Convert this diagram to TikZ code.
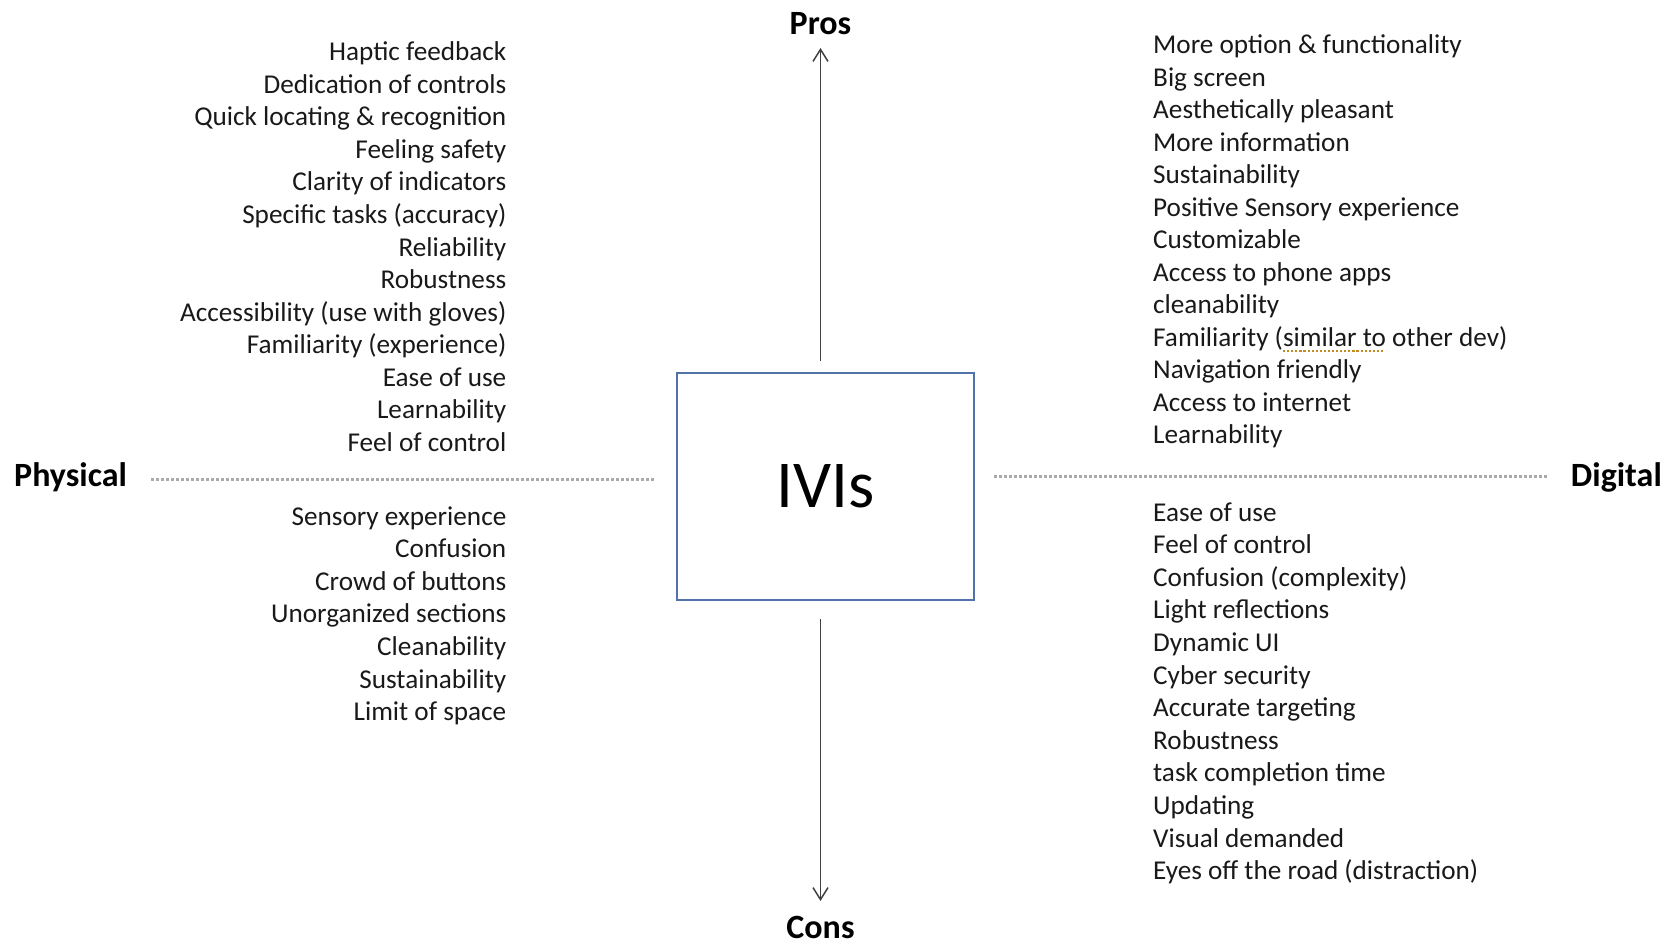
\documentclass[tikz,border=0pt]{standalone}
\usepackage{fontspec}
\setmainfont{Carlito}
\usetikzlibrary{arrows.meta}

\definecolor{boxblue}{RGB}{82,114,170}
\definecolor{axisgray}{RGB}{64,64,64}
\definecolor{dotgray}{RGB}{170,170,170}
\definecolor{spellmark}{RGB}{196,140,30}

% dotted proofing mark under a phrase
\newsavebox\markedbox
\newcommand\spellmarked[1]{\sbox\markedbox{#1}\rlap{\usebox\markedbox}%
  \lower0.22em\hbox to\wd\markedbox{\color{spellmark}\leaders\hbox{\rule{0.08em}{0.08em}\kern0.07em}\hfill}}

\begin{document}
\begin{tikzpicture}[x=1pt,y=-1pt,
  item/.style={inner sep=0pt, font=\fontsize{27.2}{30}\selectfont, text=black!90},
  leftitem/.style={item, anchor=base east},
  rightitem/.style={item, anchor=base west},
  axislabel/.style={inner sep=0pt, font=\fontsize{34}{37}\selectfont\bfseries, text=black},
  axisarrow/.style={draw=axisgray, line width=1.5pt, -{Straight Barb[length=12pt,width=15pt,line width=1.5pt]}},
  divider/.style={draw=dotgray, line width=3pt, dash pattern=on 3pt off 2pt},
  centerbox/.style={draw=boxblue, line width=1.5pt, minimum width=297pt, minimum height=227pt, inner sep=0pt, font=\fontsize{67}{70}\selectfont}]
\useasboundingbox (0,0) rectangle (1665,944);

% centre box
\node[centerbox] (box) at (825.5,486.5) {IVIs};

% axis labels
\node[axislabel, anchor=base] (pros) at (820.5,34.5) {Pros};
\node[axislabel, anchor=base] (cons) at (820.5,938) {Cons};
\node[axislabel, anchor=base west] (physical) at (14,486.5) {Physical};
\node[axislabel, anchor=base east] (digital) at (1662,486) {Digital};

% vertical axis
\coordinate (prosTail) at (820.5,361);
\coordinate (prosTip) at (820.5,48);
\coordinate (consTail) at (820.5,619);
\coordinate (consTip) at (820.5,901);
\draw[axisarrow] (prosTail) -- (prosTip);
\draw[axisarrow] (consTail) -- (consTip);

% horizontal axis
\coordinate (physStart) at (151,479);
\coordinate (physEnd) at (655,479);
\coordinate (digiStart) at (994,476);
\coordinate (digiEnd) at (1547,476);
\draw[divider] (physStart) -- (physEnd);
\draw[divider] (digiStart) -- (digiEnd);

% physical pros
\foreach [count=\i] \t in {Haptic feedback, Dedication of controls,
  Quick locating \& recognition, Feeling safety, Clarity of indicators,
  Specific tasks (accuracy), Reliability, Robustness,
  Accessibility (use with gloves), Familiarity (experience), Ease of use,
  Learnability, Feel of control}
  \node[leftitem, name=pp\i] at (506.5,{61+32.5*(\i-1)}) {\t};

% physical cons
\foreach [count=\i] \t in {Sensory experience, Confusion, Crowd of buttons,
  Unorganized sections, Cleanability, Sustainability, Limit of space}
  \node[leftitem, name=pc\i] at (506.5,{525+32.6*(\i-1)}) {\t};

% digital pros
\foreach [count=\i] \t in {More option \& functionality, Big screen,
  Aesthetically pleasant, More information, Sustainability,
  Positive Sensory experience, Customizable, Access to phone apps,
  cleanability, {Familiarity (\spellmarked{similar to} other dev)},
  Navigation friendly, Access to internet, Learnability}
  \node[rightitem, name=dp\i] at (1153,{53.6+32.5*(\i-1)}) {\t};

% digital cons
\foreach [count=\i] \t in {Ease of use, Feel of control, Confusion (complexity),
  Light reflections, Dynamic UI, Cyber security, Accurate targeting,
  Robustness, task completion time, Updating, Visual demanded,
  Eyes off the road (distraction)}
  \node[rightitem, name=dc\i] at (1153,{521+32.6*(\i-1)}) {\t};
\end{tikzpicture}
\end{document}
